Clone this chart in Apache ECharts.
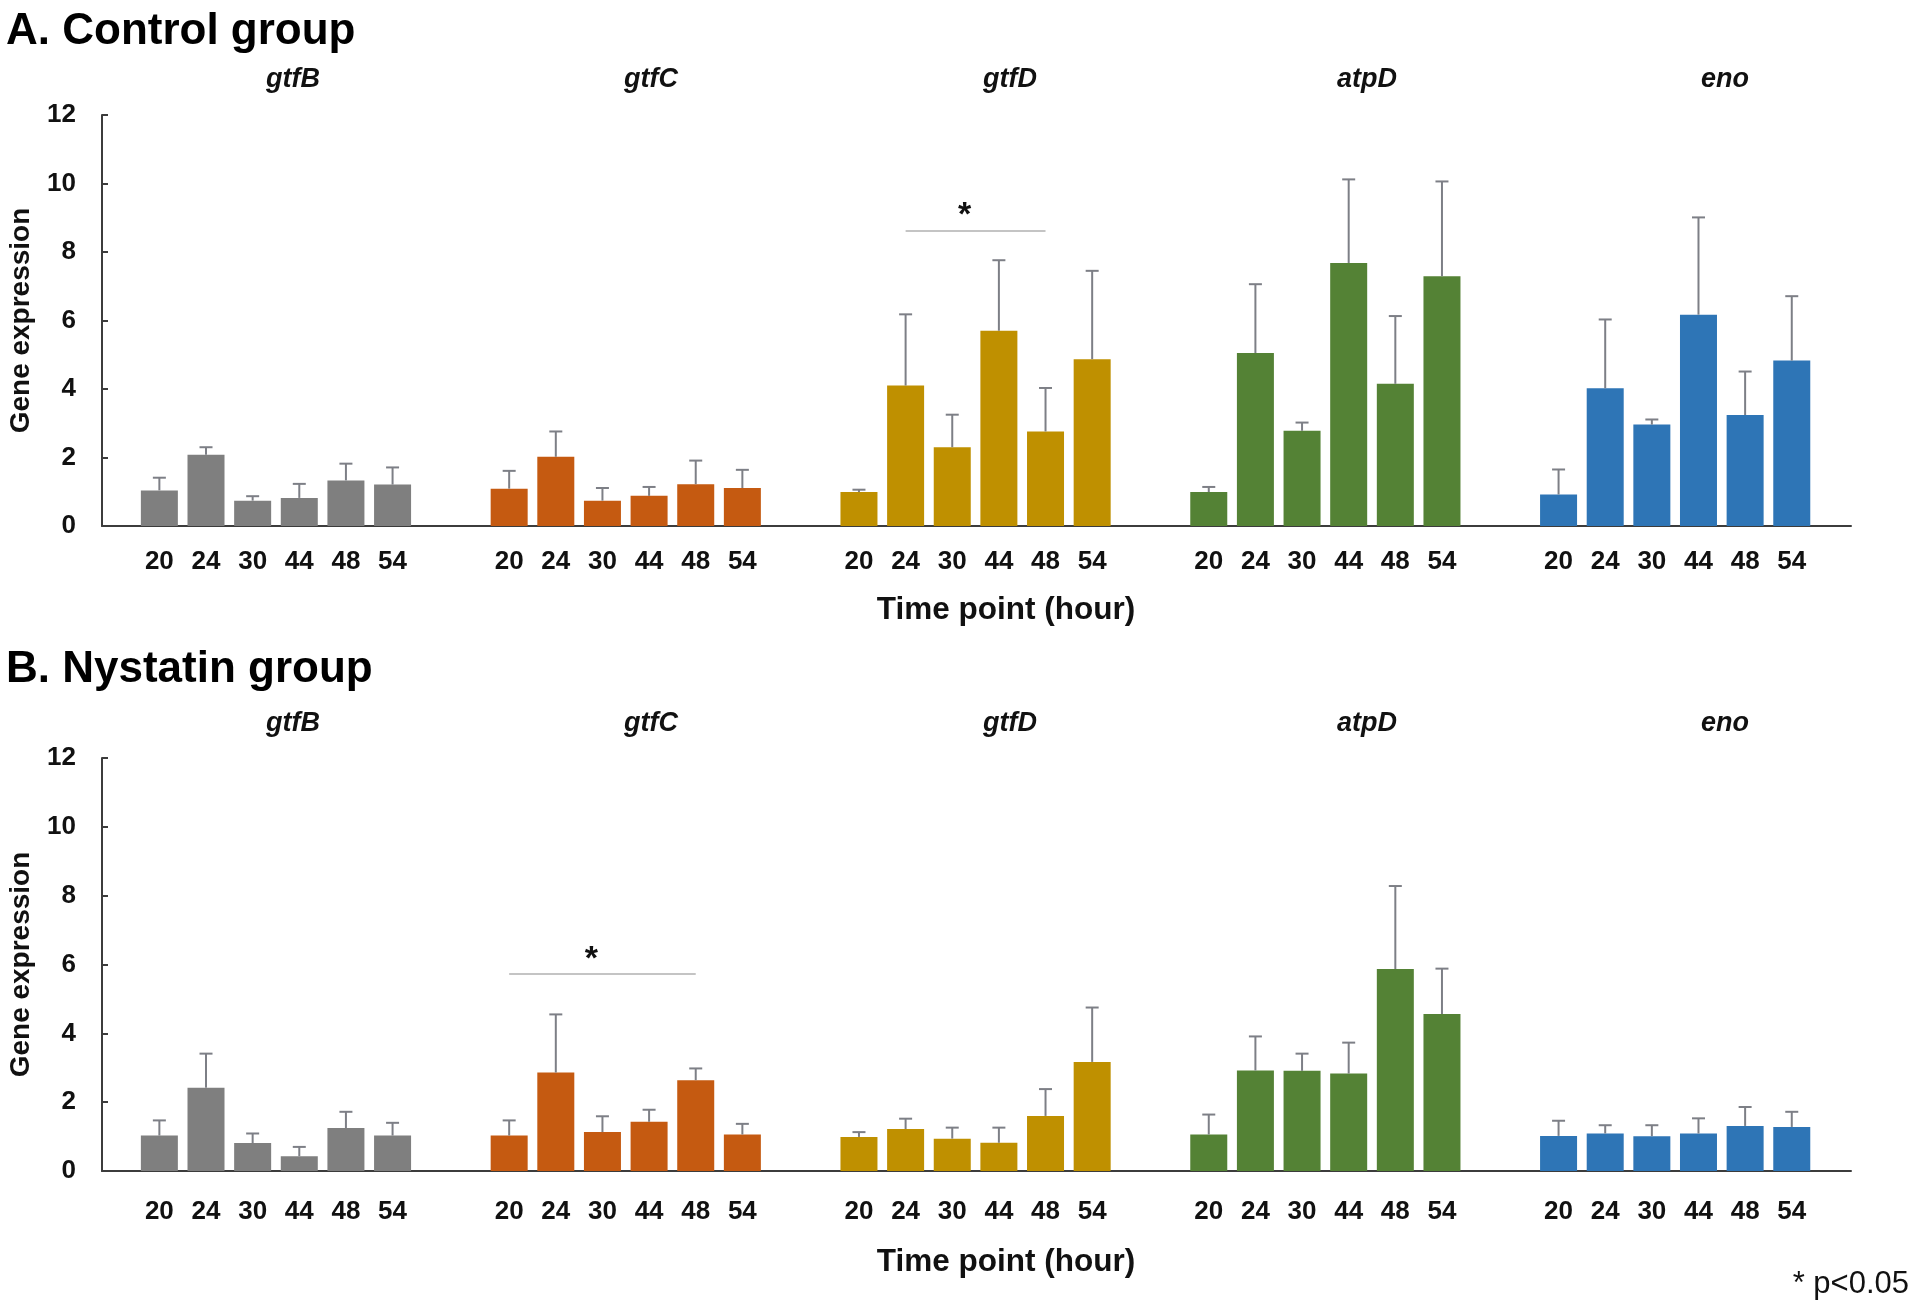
<!DOCTYPE html>
<html><head><meta charset="utf-8">
<script src="https://cdn.jsdelivr.net/npm/echarts@6/dist/echarts.min.js"></script>
<style>html,body{margin:0;padding:0;background:#fff}#c{width:1914px;height:1301px}</style>
</head><body><div id="c"></div>
<script>
// ---------- DATA ----------
const genes = ['gtfB', 'gtfC', 'gtfD', 'atpD', 'eno'];
const timePoints = ['20', '24', '30', '44', '48', '54'];
const yTicks = [0, 2, 4, 6, 8, 10, 12];

// A. Control group: mean and upper error (SD)
const ctrlGtfB = [1.04, 2.08, 0.74, 0.82, 1.33, 1.21];
const ctrlGtfBErr = [0.37, 0.22, 0.13, 0.41, 0.49, 0.50];
const ctrlGtfC = [1.09, 2.02, 0.74, 0.88, 1.22, 1.11];
const ctrlGtfCErr = [0.52, 0.74, 0.37, 0.26, 0.69, 0.53];
const ctrlGtfD = [0.99, 4.10, 2.30, 5.70, 2.76, 4.87];
const ctrlGtfDErr = [0.07, 2.08, 0.95, 2.06, 1.27, 2.58];
const ctrlAtpD = [0.99, 5.05, 2.78, 7.68, 4.15, 7.29];
const ctrlAtpDErr = [0.15, 2.01, 0.24, 2.44, 1.98, 2.77];
const ctrlEno = [0.92, 4.02, 2.96, 6.17, 3.24, 4.83];
const ctrlEnoErr = [0.73, 2.01, 0.15, 2.84, 1.27, 1.88];

// B. Nystatin group
const nysGtfB = [1.03, 2.42, 0.81, 0.43, 1.25, 1.03];
const nysGtfBErr = [0.44, 0.99, 0.28, 0.27, 0.47, 0.37];
const nysGtfC = [1.03, 2.86, 1.13, 1.43, 2.64, 1.06];
const nysGtfCErr = [0.44, 1.69, 0.46, 0.35, 0.34, 0.31];
const nysGtfD = [0.99, 1.22, 0.94, 0.82, 1.60, 3.17];
const nysGtfDErr = [0.14, 0.30, 0.32, 0.44, 0.78, 1.58];
const nysAtpD = [1.06, 2.92, 2.91, 2.83, 5.87, 4.56];
const nysAtpDErr = [0.58, 0.99, 0.50, 0.90, 2.41, 1.32];
const nysEno = [1.02, 1.09, 1.01, 1.09, 1.31, 1.28];
const nysEnoErr = [0.44, 0.24, 0.32, 0.44, 0.55, 0.44];

// significance brackets: gene, from time, to time, level
const sigCtrl = ['gtfD', '24', '48', 8.62];
const sigNys = ['gtfC', '20', '48', 5.72];

// ---------- STYLE / LAYOUT ----------
const geneColors = ['#7f7f7f', '#c55a11', '#bf9000', '#548235', '#2e75b6'];
const GROUP_STEP = 7.5;
const FONT = '"Liberation Sans", Arial, Helvetica, sans-serif';
const AXIS_COLOR = '#3c3c3c';
const ERR_COLOR = '#7d7f86';
const TEXT_COLOR = '#111';
const geneLabelX = [293, 651, 1010, 1367, 1725];

const panels = [
  { title: 'A. Control group', titleY: 32, geneY: 80, nameY: 610, top: 115, height: 411, labelMargin: 23,
    means: [ctrlGtfB, ctrlGtfC, ctrlGtfD, ctrlAtpD, ctrlEno],
    errs: [ctrlGtfBErr, ctrlGtfCErr, ctrlGtfDErr, ctrlAtpDErr, ctrlEnoErr], sig: sigCtrl },
  { title: 'B. Nystatin group', titleY: 670, geneY: 724, nameY: 1262, top: 758, height: 413, labelMargin: 28,
    means: [nysGtfB, nysGtfC, nysGtfD, nysAtpD, nysEno],
    errs: [nysGtfBErr, nysGtfCErr, nysGtfDErr, nysAtpDErr, nysEnoErr], sig: sigNys }
];

const xPos = (g, i) => g * GROUP_STEP + i;
const customX = [];
genes.forEach((g, gi) => timePoints.forEach((t, ti) => customX.push(xPos(gi, ti))));

function xLabel(v) {
  const g = Math.floor((v + 0.5) / GROUP_STEP);
  const i = Math.round(v - g * GROUP_STEP);
  return timePoints[i] || '';
}

function renderErr(params, api) {
  const x = api.value(0), m = api.value(1), e = api.value(2);
  const b = api.coord([x, m]);
  const t = api.coord([x, m + e]);
  const cap = 6.5;
  const style = { stroke: ERR_COLOR, lineWidth: 2 };
  return { type: 'group', children: [
    { type: 'line', shape: { x1: b[0], y1: b[1], x2: t[0], y2: t[1] }, style: style },
    { type: 'line', shape: { x1: t[0] - cap, y1: t[1], x2: t[0] + cap, y2: t[1] }, style: style }
  ]};
}

const grids = [], xAxes = [], yAxes = [], series = [], graphics = [];
panels.forEach((p, pi) => {
  grids.push({ left: 102, top: p.top, width: 1749, height: p.height });
  xAxes.push({
    type: 'value', gridIndex: pi, min: -1.23, max: 36.27,
    axisLine: { show: true, onZero: false, lineStyle: { color: AXIS_COLOR, width: 2 } },
    axisTick: { show: false }, splitLine: { show: false },
    axisLabel: { customValues: customX, formatter: xLabel, fontSize: 26, fontWeight: 'bold',
      color: TEXT_COLOR, fontFamily: FONT, margin: p.labelMargin }
  });
  yAxes.push({
    type: 'value', gridIndex: pi, min: 0, max: 12, interval: 2,
    axisLine: { show: true, onZero: false, lineStyle: { color: AXIS_COLOR, width: 2 } },
    axisTick: { show: true, inside: true, length: 6, lineStyle: { color: AXIS_COLOR, width: 2 } },
    splitLine: { show: false },
    axisLabel: { fontSize: 26, fontWeight: 'bold', color: TEXT_COLOR, fontFamily: FONT, margin: 26 }
  });
  const barData = [], errData = [];
  genes.forEach((g, gi) => {
    p.means[gi].forEach((v, ti) => {
      barData.push({ value: [xPos(gi, ti), v], itemStyle: { color: geneColors[gi] } });
      errData.push([xPos(gi, ti), v, p.errs[gi][ti]]);
    });
  });
  const sg = genes.indexOf(p.sig[0]);
  series.push({
    type: 'bar', xAxisIndex: pi, yAxisIndex: pi, barWidth: 37, data: barData, z: 2,
    markLine: {
      silent: true, symbol: ['none', 'none'],
      lineStyle: { color: '#c4c4c4', width: 2, type: 'solid' },
      label: { show: true, position: 'middle', formatter: '*', fontSize: 34, fontWeight: 'bold',
        color: TEXT_COLOR, fontFamily: FONT, distance: -2, padding: [0, 22, 0, 0] },
      data: [[
        { coord: [xPos(sg, timePoints.indexOf(p.sig[1])), p.sig[3]] },
        { coord: [xPos(sg, timePoints.indexOf(p.sig[2])), p.sig[3]] }
      ]]
    }
  });
  series.push({ type: 'custom', xAxisIndex: pi, yAxisIndex: pi, renderItem: renderErr,
    data: errData, z: 3, encode: { x: 0, y: [1, 2] } });

  graphics.push({ type: 'text', x: 6, y: p.titleY, style: { text: p.title,
    font: 'bold 44px ' + FONT, fill: '#000', verticalAlign: 'middle' } });
  genes.forEach((g, gi) => graphics.push({ type: 'text', x: geneLabelX[gi], y: p.geneY,
    style: { text: g, font: 'italic bold 27px ' + FONT, fill: TEXT_COLOR, align: 'center', verticalAlign: 'middle' } }));
  graphics.push({ type: 'text', x: 1006, y: p.nameY, style: { text: 'Time point (hour)',
    font: 'bold 31.5px ' + FONT, fill: TEXT_COLOR, align: 'center', verticalAlign: 'middle' } });
  graphics.push({ type: 'text', x: 21, y: p.top + p.height / 2, rotation: Math.PI / 2,
    style: { text: 'Gene expression', font: 'bold 28px ' + FONT, fill: TEXT_COLOR, align: 'center', verticalAlign: 'middle' } });
});
graphics.push({ type: 'text', x: 1909, y: 1284, style: { text: '* p<0.05', font: '31px ' + FONT,
  fill: TEXT_COLOR, align: 'right', verticalAlign: 'middle' } });

const chart = echarts.init(document.getElementById('c'), null, { renderer: 'canvas' });
chart.setOption({
  animation: false, backgroundColor: '#fff',
  grid: grids, xAxis: xAxes, yAxis: yAxes, series: series, graphic: graphics
});
</script></body></html>
